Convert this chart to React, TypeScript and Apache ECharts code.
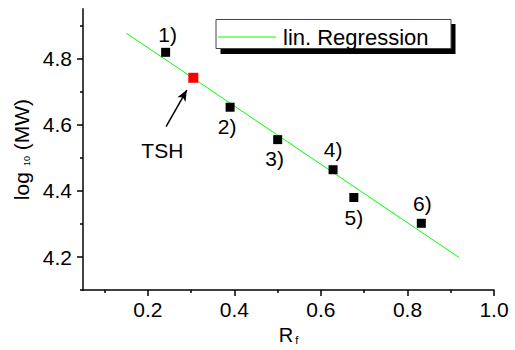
import React, { useEffect, useRef } from "react";
import * as echarts from "echarts";

// ---- data ----
const pointNames = ["1)", "2)", "3)", "4)", "5)", "6)"];
const rfValues = [0.241, 0.39, 0.5, 0.628, 0.676, 0.832];
const logMwValues = [4.819, 4.653, 4.555, 4.464, 4.38, 4.302];

const tshName = "TSH";
const tshRf = [0.305];
const tshLogMw = [4.742];

const regressionName = "lin. Regression";
const regressionRf = [0.15, 0.92];
const regressionLogMw = [4.877, 4.198];

// arrow pointing at TSH (start / end in data units)
const arrowRf = [0.242, 0.29];
const arrowLogMw = [4.594, 4.705];

const xMajorTicks = [0.2, 0.4, 0.6, 0.8, 1.0];
const xMinorTicks = [0.1, 0.3, 0.5, 0.7, 0.9];
const yMajorTicks = [4.2, 4.4, 4.6, 4.8];
const yMinorTicks = [4.1, 4.3, 4.5, 4.7, 4.9];

// label offsets (layout, pixels) for numbered points
const labelOffsets: [number, number][] = [
  [2, -18],
  [-3, 19],
  [-3, 19],
  [0, -20],
  [0, 20],
  [1, -20],
];

const FONT = "'Liberation Sans', Arial, Helvetica, sans-serif";

export default function App() {
  const ref = useRef<HTMLDivElement>(null);

  useEffect(() => {
    if (!ref.current) return;
    const chart = echarts.init(ref.current, undefined, { renderer: "svg" });

    const numbered = rfValues.map((x, i) => ({
      name: pointNames[i],
      value: [x, logMwValues[i]],
      label: {
        show: true,
        position: "inside",
        offset: labelOffsets[i],
        formatter: "{b}",
        color: "#000",
        fontSize: 21,
        fontFamily: FONT,
      },
    }));

    const option: any = {
      animation: false,
      backgroundColor: "#fff",
      textStyle: { fontFamily: FONT },
      grid: { left: 83, right: 21, top: 9, bottom: 53, containLabel: false },
      legend: {
        data: [{ name: regressionName, icon: "rect" }],
        left: 218,
        top: 25,
        padding: 0,
        itemWidth: 58,
        itemHeight: 1.2,
        itemGap: 6,
        z: 10,
        selectedMode: false,
        textStyle: {
          fontSize: 22,
          fontFamily: FONT,
          color: "#000",
          lineHeight: 24,
          padding: [0, 0, 0, 2],
        },
      },
      graphic: [
        {
          type: "rect",
          z: 1,
          shape: { x: 220.5, y: 24, width: 235, height: 30 },
          style: { fill: "#000" },
          silent: true,
        },
        {
          type: "rect",
          z: 2,
          shape: { x: 216, y: 19.5, width: 235, height: 29 },
          style: { fill: "#fff", stroke: "#444", lineWidth: 1 },
          silent: true,
        },
      ],
      xAxis: [
        {
          type: "value",
          min: 0.05,
          max: 1.0,
          position: "bottom",
          name: "{n|R}{s|f}",
          nameLocation: "middle",
          nameGap: 25,
          nameTextStyle: {
            rich: {
              n: { fontSize: 20, fontFamily: FONT, color: "#000" },
              s: { fontSize: 11, fontFamily: FONT, color: "#000", verticalAlign: "bottom", padding: [0, 0, 0, 2] },
            },
          },
          splitLine: { show: false },
          axisLine: { show: true, onZero: false, lineStyle: { color: "#000", width: 1.5 } },
          axisTick: {
            show: true,
            inside: false,
            length: 6,
            customValues: xMajorTicks,
            lineStyle: { color: "#000", width: 1.5 },
          },
          axisLabel: {
            show: true,
            customValues: xMajorTicks,
            margin: 9,
            fontSize: 21,
            fontFamily: FONT,
            color: "#000",
            formatter: (v: number) => v.toFixed(1),
          },
        },
        {
          type: "value",
          min: 0.05,
          max: 1.0,
          position: "bottom",
          splitLine: { show: false },
          axisLine: { show: false, onZero: false },
          axisTick: {
            show: true,
            length: 3,
            customValues: xMinorTicks,
            lineStyle: { color: "#000", width: 1.5 },
          },
          axisLabel: { show: false },
        },
      ],
      yAxis: [
        {
          type: "value",
          min: 4.1,
          max: 4.95,
          position: "left",
          name: "{n|log}{s|10}{n| (MW)}",
          nameLocation: "middle",
          nameGap: 44,
          nameTextStyle: {
            rich: {
              n: { fontSize: 21, fontFamily: FONT, color: "#000" },
              s: { fontSize: 9, fontFamily: FONT, color: "#000", verticalAlign: "bottom", padding: [0, 0, 0, 6] },
            },
          },
          splitLine: { show: false },
          axisLine: { show: true, onZero: false, lineStyle: { color: "#444", width: 2 } },
          axisTick: {
            show: true,
            inside: false,
            length: 6,
            customValues: yMajorTicks,
            lineStyle: { color: "#000", width: 1.5 },
          },
          axisLabel: {
            show: true,
            customValues: yMajorTicks,
            margin: 11,
            fontSize: 21,
            fontFamily: FONT,
            color: "#000",
            formatter: (v: number) => v.toFixed(1),
          },
        },
        {
          type: "value",
          min: 4.1,
          max: 4.95,
          position: "left",
          splitLine: { show: false },
          axisLine: { show: false, onZero: false },
          axisTick: {
            show: true,
            length: 3,
            customValues: yMinorTicks,
            lineStyle: { color: "#000", width: 1.5 },
          },
          axisLabel: { show: false },
        },
      ],
      series: [
        {
          name: regressionName,
          type: "line",
          xAxisIndex: 0,
          yAxisIndex: 0,
          data: regressionRf.map((x, i) => [x, regressionLogMw[i]]),
          symbol: "none",
          showSymbol: false,
          itemStyle: { color: "#00ff00" },
          lineStyle: { color: "#00ff00", width: 1 },
          z: 2,
        },
        {
          name: "samples",
          type: "scatter",
          xAxisIndex: 0,
          yAxisIndex: 0,
          symbol: "rect",
          symbolSize: 9,
          itemStyle: { color: "#000", opacity: 1 },
          data: numbered,
          z: 3,
        },
        {
          name: tshName,
          type: "scatter",
          xAxisIndex: 0,
          yAxisIndex: 0,
          symbol: "rect",
          symbolSize: 10,
          itemStyle: { color: "#ff0000", opacity: 1 },
          data: tshRf.map((x, i) => ({ name: tshName, value: [x, tshLogMw[i]] })),
          label: {
            show: true,
            position: "inside",
            offset: [-31, 73],
            formatter: "{b}",
            color: "#000",
            fontSize: 21,
            fontFamily: FONT,
          },
          markLine: {
            silent: true,
            animation: false,
            symbol: ["none", "arrow"],
            symbolSize: [7, 11],
            label: { show: false },
            lineStyle: { color: "#000", width: 1.5, type: "solid", opacity: 1 },
            data: [
              [
                { coord: [arrowRf[0], arrowLogMw[0]] },
                { coord: [arrowRf[1], arrowLogMw[1]] },
              ],
            ],
          },
          z: 4,
        },
      ],
    };

    chart.setOption(option);
    return () => chart.dispose();
  }, []);

  return (
    <div
      ref={ref}
      style={{ position: "absolute", left: 0, top: 0, width: 515, height: 350, background: "#fff" }}
    />
  );
}
